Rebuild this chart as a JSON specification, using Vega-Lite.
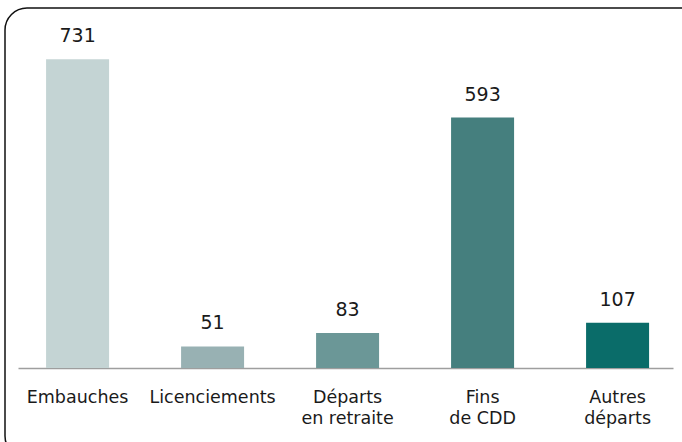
{
  "$schema": "https://vega.github.io/schema/vega-lite/v6.json",
  "width": 700,
  "height": 450,
  "autosize": {"type": "none"},
  "padding": {"left": 5, "top": 8, "right": 0, "bottom": 0},
  "background": "#ffffff",
  "config": {
    "view": {"stroke": "#111111", "strokeWidth": 1.5, "cornerRadius": 22},
    "font": "DejaVu Sans",
    "text": {"font": "DejaVu Sans"}
  },
  "data": {
    "values": [
      {"cat": "Embauches", "value": 731, "color": "#c4d4d4"},
      {"cat": "Licenciements", "value": 51, "color": "#98b1b3"},
      {"cat": "Départs\nen retraite", "value": 83, "color": "#6b9797"},
      {"cat": "Fins\nde CDD", "value": 593, "color": "#457f7e"},
      {"cat": "Autres\ndéparts", "value": 107, "color": "#0a6c69"}
    ]
  },
  "encoding": {
    "x": {
      "field": "cat",
      "type": "nominal",
      "sort": null,
      "scale": {"range": [13, 668], "paddingInner": 0.5333, "paddingOuter": 0.1926, "align": 0.54},
      "axis": {
        "title": null,
        "labelAngle": 0,
        "offset": -90,
        "ticks": false,
        "domainColor": "#9e9e9e",
        "domainWidth": 1.5,
        "labelColor": "#1a1a1a",
        "labelFontSize": 17.5,
        "labelFont": "DejaVu Sans",
        "labelPadding": 20,
        "labelLineHeight": 21,
        "labelExpr": "split(datum.label, '\\n')"
      }
    },
    "y": {
      "field": "value",
      "type": "quantitative",
      "scale": {"domain": [-213.1, 852.5], "nice": false, "zero": false},
      "axis": null
    }
  },
  "layer": [
    {
      "mark": {"type": "bar"},
      "encoding": {"color": {"field": "color", "type": "nominal", "scale": null}}
    },
    {
      "mark": {"type": "text", "baseline": "bottom", "dy": -13, "fontSize": 19, "color": "#1a1a1a", "font": "DejaVu Sans"},
      "encoding": {"text": {"field": "value", "type": "quantitative"}}
    }
  ]
}
